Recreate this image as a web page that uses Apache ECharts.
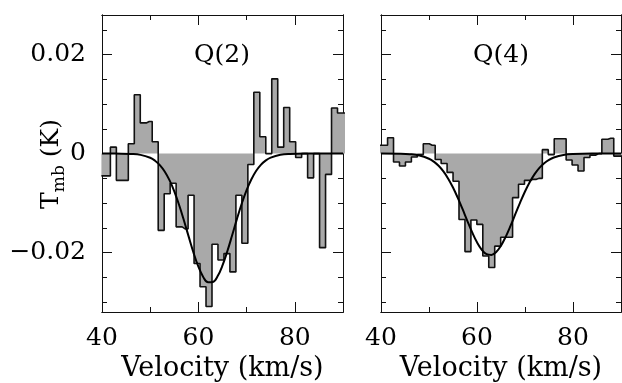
<!DOCTYPE html>
<html>
<head>
<meta charset="utf-8">
<script src="https://cdn.jsdelivr.net/npm/echarts/dist/echarts.min.js"></script>
<style>
  html, body { margin: 0; padding: 0; background: #fff; }
  #chart { width: 622px; height: 383px; }
</style>
</head>
<body>
<div id="chart"></div>
<script>
// channel centres (km/s) and T_mb (K) of the two spectra
const velQ2 = [39.88, 41.12, 42.36, 43.60, 44.84, 46.08, 47.32, 48.56, 49.80, 51.04,
  52.28, 53.52, 54.76, 56.00, 57.24, 58.48, 59.72, 60.96, 62.20, 63.44,
  64.68, 65.92, 67.16, 68.40, 69.64, 70.88, 72.12, 73.36, 74.60, 75.84,
  77.08, 78.32, 79.56, 80.80, 82.04, 83.28, 84.52, 85.76, 87.00, 88.24,
  89.48, 90.72];
const tmbQ2 = [-0.0045, -0.0045, 0.0013, -0.0054, -0.0054, 0.0020, 0.0119, 0.0062, 0.0065, 0.0024,
  -0.0155, -0.0081, -0.0060, -0.0148, -0.0152, -0.0084, -0.0222, -0.0269, -0.0309, -0.0183,
  -0.0215, -0.0202, -0.0239, -0.0084, -0.0181, -0.0022, 0.0124, 0.0034, 0, 0.0151,
  0.0013, 0.0093, 0.0024, -0.0008, 0, -0.0049, 0, -0.0190, -0.0042, 0.0092,
  0.0082, 0.0082];

const velQ4 = [39.51, 40.75, 41.99, 43.23, 44.47, 45.71, 46.95, 48.19, 49.43, 50.67,
  51.91, 53.15, 54.39, 55.63, 56.87, 58.11, 59.35, 60.59, 61.83, 63.07,
  64.31, 65.55, 66.79, 68.03, 69.27, 70.51, 71.75, 72.99, 74.23, 75.47,
  76.71, 77.95, 79.19, 80.43, 81.67, 82.91, 84.15, 85.39, 86.63, 87.87,
  89.11, 90.35];
const tmbQ4 = [0.0017, 0.0017, 0.0032, -0.0017, -0.0025, -0.0017, -0.0007, -0.0002, 0.0020, 0.0017,
  -0.0012, -0.0020, -0.0038, -0.0056, -0.0133, -0.0198, -0.0134, -0.0143, -0.0207, -0.0230,
  -0.0187, -0.0169, -0.0169, -0.0089, -0.0062, -0.0054, -0.0052, -0.0050, 0.0008, -0.0002,
  0.0030, 0.0030, -0.0013, -0.0023, -0.0035, -0.0008, -0.0003, 0, 0.0029, 0.0031,
  -0.0005, -0.0005];

// fitted profiles
const fitVelQ2 = [40, 44, 46, 48, 50, 51, 52, 53, 54, 55, 56, 57, 58, 59, 60, 61, 62, 63, 64,
  65, 66, 67, 68, 69, 70, 71, 72, 73, 74, 75, 77, 79, 82, 90];
const fitQ2 = [0, -0.00001, -0.00007, -0.00026, -0.00084, -0.00143, -0.00232, -0.00361, -0.00536,
  -0.00763, -0.01038, -0.01351, -0.01683, -0.02005, -0.02285, -0.02491, -0.02598, -0.02593,
  -0.02475, -0.02260, -0.01974, -0.01650, -0.01319, -0.01009, -0.00738, -0.00517, -0.00346,
  -0.00222, -0.00136, -0.00080, -0.00024, -0.00006, 0, 0];

const fitVelQ4 = [40, 44, 46, 48, 50, 51, 52, 53, 54, 55, 56, 57, 58, 59, 60, 61, 62, 63, 64,
  65, 66, 67, 68, 69, 70, 71, 72, 73, 74, 75, 76, 78, 80, 84, 90];
const fitQ4 = [0, -0.00003, -0.00012, -0.00038, -0.00104, -0.00163, -0.00247, -0.00360, -0.00506,
  -0.00685, -0.00894, -0.01124, -0.01363, -0.01592, -0.01792, -0.01943, -0.02032, -0.02047,
  -0.01987, -0.01859, -0.01676, -0.01456, -0.01220, -0.00984, -0.00765, -0.00573, -0.00414,
  -0.00288, -0.00193, -0.00125, -0.00078, -0.00027, -0.00008, 0, 0];

const panelTitles = ['Q(2)', 'Q(4)'];
const xMajor = [40, 60, 80];
const xMinor = [50, 70];
const yMajor = [-0.02, 0, 0.02];
const yMinor = [-0.03, -0.025, -0.015, -0.01, -0.005, 0.005, 0.01, 0.015, 0.025];

const FONT = 'DejaVu Serif';
const INK = '#111';
const chart = echarts.init(document.getElementById('chart'));

// fixed frames: no automatic shrinking to fit the labels
const grids = [
  { left: 102, top: 15, width: 241, height: 297, outerBoundsMode: 'none', containLabel: false },
  { left: 381, top: 15, width: 240, height: 297, outerBoundsMode: 'none', containLabel: false }
];

function fmtY(v) {
  if (Math.abs(v) < 1e-9) return '0';
  return (v < 0 ? '\u2212' : '') + Math.abs(v).toFixed(2);
}

function makeX(g) {
  const base = {
    type: 'value', gridIndex: g, min: 40, max: 90,
    splitLine: { show: false },
    axisLine: { show: true, onZero: false, lineStyle: { color: INK, width: 1 } },
    axisLabel: { show: false }
  };
  const tick = (vals, len) => ({ show: true, inside: true, length: len, customValues: vals, lineStyle: { color: INK, width: 1 } });
  return [
    Object.assign({}, base, {
      position: 'bottom', axisTick: tick(xMajor, 10),
      axisLabel: { show: true, customValues: xMajor, margin: 14, color: '#000', fontFamily: FONT, fontSize: 25 },
      name: 'Velocity (km/s)', nameLocation: 'middle', nameGap: 40,
      nameTextStyle: { color: '#000', fontFamily: FONT, fontSize: 27 }
    }),
    Object.assign({}, base, { position: 'bottom', axisTick: tick(xMinor, 5) }),
    Object.assign({}, base, { position: 'top', axisTick: tick(xMajor, 10) }),
    Object.assign({}, base, { position: 'top', axisTick: tick(xMinor, 5) })
  ];
}

function makeY(g, labels) {
  const base = {
    type: 'value', gridIndex: g, min: -0.032, max: 0.028,
    splitLine: { show: false },
    axisLine: { show: true, onZero: false, lineStyle: { color: INK, width: 1 } },
    axisLabel: { show: false }
  };
  const tick = (vals, len) => ({ show: true, inside: true, length: len, customValues: vals, lineStyle: { color: INK, width: 1 } });
  const major = Object.assign({}, base, { position: 'left', axisTick: tick(yMajor, 10) });
  if (labels) {
    major.axisLabel = { show: true, customValues: yMajor, margin: 16, formatter: fmtY, color: '#000', fontFamily: FONT, fontSize: 25 };
  }
  return [
    major,
    Object.assign({}, base, { position: 'left', axisTick: tick(yMinor, 5) }),
    Object.assign({}, base, { position: 'right', axisTick: tick(yMajor, 10) }),
    Object.assign({}, base, { position: 'right', axisTick: tick(yMinor, 5) })
  ];
}

function spectrum(g, vel, tmb) {
  return {
    type: 'line', xAxisIndex: g * 4, yAxisIndex: g * 4,
    data: vel.map((v, i) => [v, tmb[i]]),
    step: 'middle', symbol: 'none', clip: true, z: 2,
    lineStyle: { color: '#111', width: 1.6 },
    areaStyle: { color: '#a9a9a9', opacity: 1, origin: 0 }
  };
}

function fit(g, vel, val) {
  return {
    type: 'line', xAxisIndex: g * 4, yAxisIndex: g * 4,
    data: vel.map((v, i) => [v, val[i]]),
    smooth: 0.4, symbol: 'none', clip: true, z: 3,
    lineStyle: { color: '#000', width: 2 }
  };
}

chart.setOption({
  animation: false,
  grid: grids,
  xAxis: makeX(0).concat(makeX(1)),
  yAxis: makeY(0, true).concat(makeY(1, false)),
  series: [
    spectrum(0, velQ2, tmbQ2), fit(0, fitVelQ2, fitQ2),
    spectrum(1, velQ4, tmbQ4), fit(1, fitVelQ4, fitQ4)
  ],
  graphic: [
    { type: 'text', x: 222, y: 55, z: 10,
      style: { text: panelTitles[0], fontFamily: FONT, fontSize: 25, fill: '#000', align: 'center', verticalAlign: 'middle' } },
    { type: 'text', x: 501, y: 55, z: 10,
      style: { text: panelTitles[1], fontFamily: FONT, fontSize: 25, fill: '#000', align: 'center', verticalAlign: 'middle' } },
    { type: 'text', x: 51, y: 164, rotation: Math.PI / 2, z: 10,
      style: {
        text: '{n|T}{s|mb}{n| (K)}', align: 'center', verticalAlign: 'middle', fill: '#000',
        rich: {
          n: { fontFamily: FONT, fontSize: 25, fill: '#000' },
          s: { fontFamily: FONT, fontSize: 17, fill: '#000', padding: [18, 0, 0, 0] }
        }
      } }
  ]
});
</script>
</body>
</html>
